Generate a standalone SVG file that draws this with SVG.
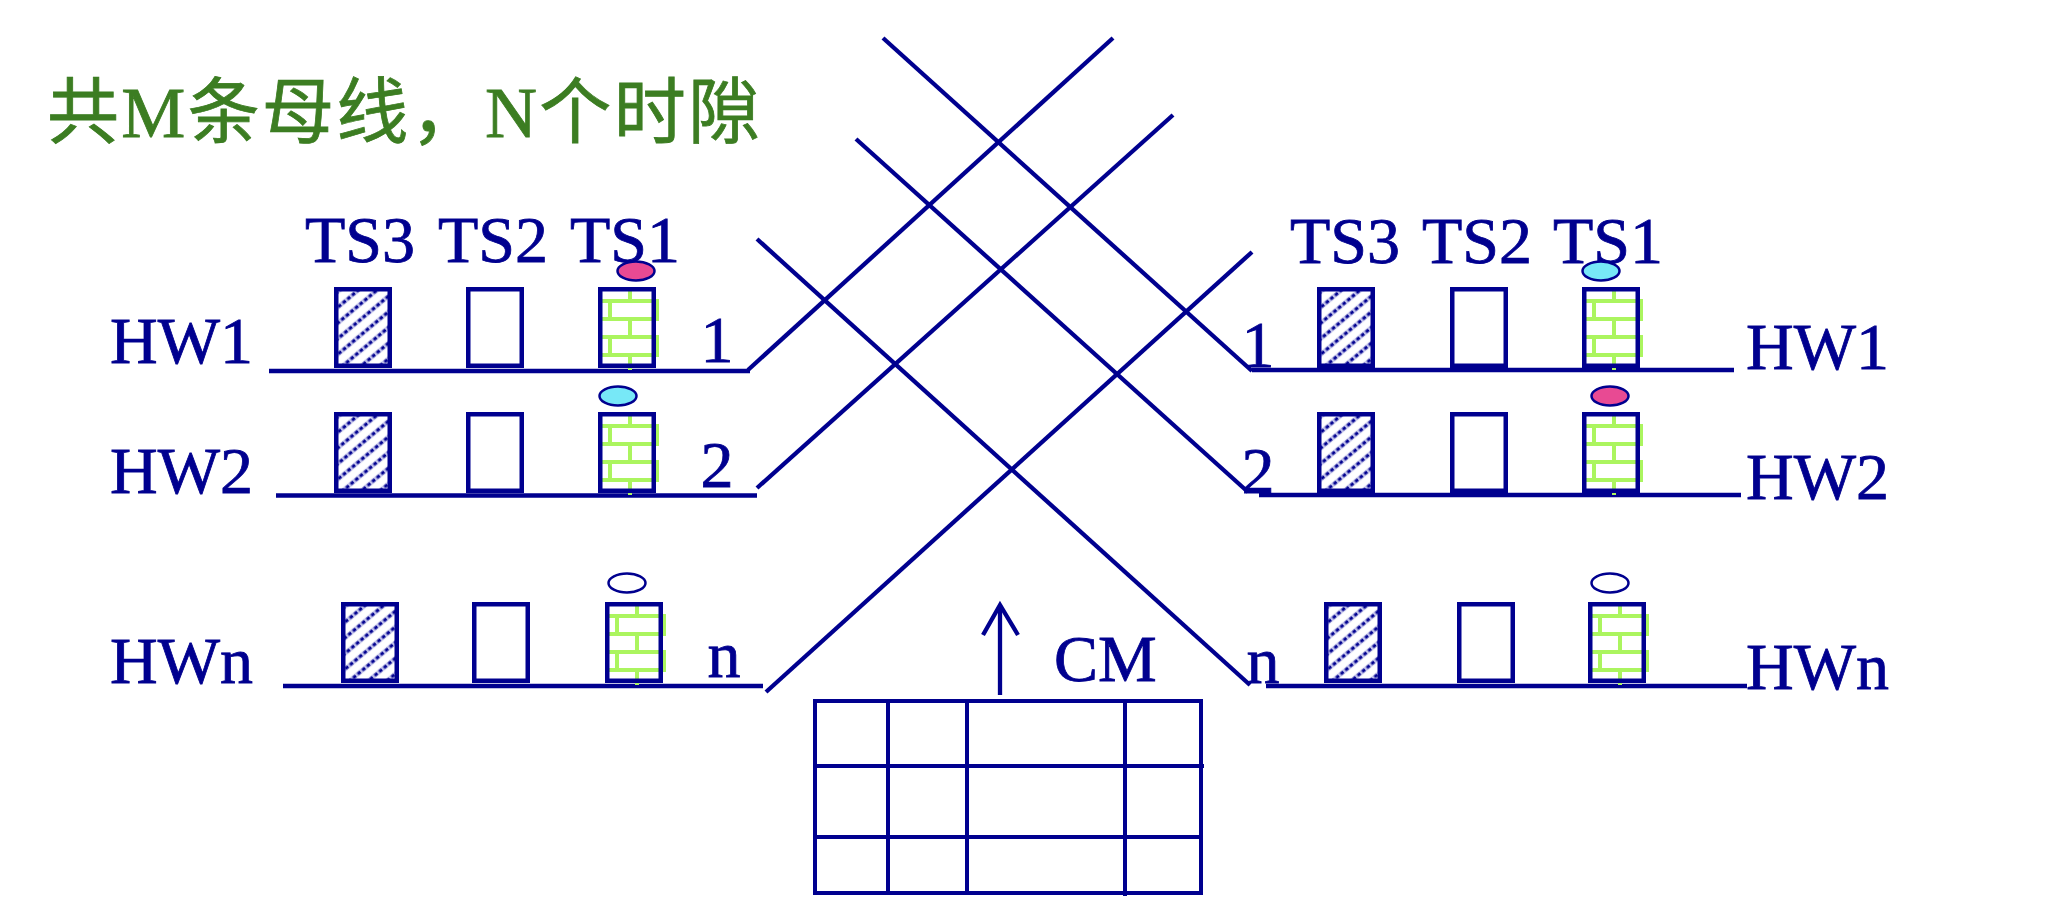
<svg xmlns="http://www.w3.org/2000/svg" xmlns:xlink="http://www.w3.org/1999/xlink" width="2050" height="916" viewBox="0 0 2050 916">
<style>
.ln{stroke:#00008f;stroke-width:4.3;fill:none;stroke-linecap:butt}
.tx{font-family:"Liberation Serif","Times New Roman",serif;font-size:66px;fill:#00008f;stroke:#00008f;stroke-width:0.8}
.num{font-family:"Liberation Serif","Times New Roman",serif;font-size:66px;fill:#00008f;stroke:#00008f;stroke-width:0.8;text-anchor:middle}
.title{font-family:"Liberation Serif","Noto Sans CJK SC",serif;font-size:72px;fill:#3c7d22;stroke:#3c7d22;stroke-width:0.8}
.box{fill:none;stroke:#00008f;stroke-width:4.5}
.ell{stroke:#00008f;stroke-width:2.5}
.tbl{stroke:#00008f;stroke-width:4;fill:none}
</style>
<defs>
<pattern id="hatch" patternUnits="userSpaceOnUse" width="12" height="12" patternTransform="rotate(50)">
<rect width="12" height="12" fill="#ffffff"/>
<line x1="6" y1="0" x2="6" y2="12" stroke="#c0c0ea" stroke-width="4.5"/>
<line x1="6" y1="0" x2="6" y2="12" stroke="#00008f" stroke-width="3" stroke-dasharray="3.5 2.5"/>
</pattern>
<g id="hatchBox">
<rect x="2.25" y="2.25" width="53.5" height="76.5" class="box" style="fill:url(#hatch)"/>
</g>
<g id="emptyBox">
<rect x="2.25" y="2.25" width="53.5" height="76.5" class="box" style="fill:#ffffff"/>
</g>
<g id="brickBox">
<rect x="2" y="2" width="54" height="77" fill="#ffffff"/>
<path d="M2 14H61M2 32H61M2 50H61M2 68H61M32 2V14M32 32V50M32 68V83M12 14V32M12 50V68M59 14V32M59 50V68" stroke="#abf55f" stroke-width="4" fill="none"/>
<rect x="2.25" y="2.25" width="53.5" height="76.5" class="box"/>
</g>
</defs>
<rect width="2050" height="916" fill="#ffffff"/>

<g id="title">
<text class="title" x="47" y="137" textLength="713" lengthAdjust="spacing">共M条母线，N个时隙</text>
</g>

<g id="connectors">
<line class="ln" x1="269" y1="371" x2="750" y2="371"/>
<line class="ln" x1="276" y1="495.5" x2="757" y2="495.5"/>
<line class="ln" x1="283" y1="686" x2="763" y2="686"/>
<line class="ln" x1="1252" y1="370" x2="1734" y2="370"/>
<line class="ln" x1="1259" y1="495" x2="1741" y2="495"/>
<line class="ln" x1="1266" y1="686" x2="1747" y2="686"/>
<line class="ln" x1="748" y1="370" x2="1113" y2="38"/>
<line class="ln" x1="757" y1="488" x2="1173" y2="115"/>
<line class="ln" x1="766" y1="692" x2="1252" y2="252"/>
<line class="ln" x1="883" y1="38" x2="1252" y2="371"/>
<line class="ln" x1="856" y1="139" x2="1248" y2="492"/>
<line class="ln" x1="757" y1="239" x2="1250" y2="685"/>
<line class="ln" x1="1000" y1="695" x2="1000" y2="606"/>
<polyline class="ln" points="983,635 1000,605 1018,635"/>
</g>

<g id="left-labels">
<text class="tx" x="305" y="262">TS3</text>
<text class="tx" x="438" y="262">TS2</text>
<text class="tx" x="570" y="262">TS1</text>
<text class="tx" x="110" y="363">HW1</text>
<text class="tx" x="110" y="493">HW2</text>
<text class="tx" x="110" y="683">HWn</text>
<text class="num" x="717" y="362">1</text>
<text class="num" x="717" y="487">2</text>
<text class="num" x="724" y="677">n</text>
</g>

<g id="right-labels">
<text class="tx" x="1290" y="263">TS3</text>
<text class="tx" x="1422" y="263">TS2</text>
<text class="tx" x="1553" y="263">TS1</text>
<text class="tx" x="1746" y="369">HW1</text>
<text class="tx" x="1746" y="499">HW2</text>
<text class="tx" x="1746" y="689">HWn</text>
<text class="num" x="1258" y="367">1</text>
<text class="num" x="1258" y="493">2</text>
<text class="num" x="1263" y="683">n</text>
</g>

<g id="L-HW1-TS3"><use xlink:href="#hatchBox" href="#hatchBox" x="334" y="287"/></g>
<g id="L-HW1-TS2"><use xlink:href="#emptyBox" href="#emptyBox" x="466" y="287"/></g>
<g id="L-HW1-TS1"><use xlink:href="#brickBox" href="#brickBox" x="598" y="287"/></g>
<g id="L-HW2-TS3"><use xlink:href="#hatchBox" href="#hatchBox" x="334" y="412"/></g>
<g id="L-HW2-TS2"><use xlink:href="#emptyBox" href="#emptyBox" x="466" y="412"/></g>
<g id="L-HW2-TS1"><use xlink:href="#brickBox" href="#brickBox" x="598" y="412"/></g>
<g id="L-HWn-TS3"><use xlink:href="#hatchBox" href="#hatchBox" x="341" y="602"/></g>
<g id="L-HWn-TS2"><use xlink:href="#emptyBox" href="#emptyBox" x="472" y="602"/></g>
<g id="L-HWn-TS1"><use xlink:href="#brickBox" href="#brickBox" x="605" y="602"/></g>

<g id="R-HW1-TS3"><use xlink:href="#hatchBox" href="#hatchBox" x="1317" y="287"/></g>
<g id="R-HW1-TS2"><use xlink:href="#emptyBox" href="#emptyBox" x="1450" y="287"/></g>
<g id="R-HW1-TS1"><use xlink:href="#brickBox" href="#brickBox" x="1582" y="287"/></g>
<g id="R-HW2-TS3"><use xlink:href="#hatchBox" href="#hatchBox" x="1317" y="412"/></g>
<g id="R-HW2-TS2"><use xlink:href="#emptyBox" href="#emptyBox" x="1450" y="412"/></g>
<g id="R-HW2-TS1"><use xlink:href="#brickBox" href="#brickBox" x="1582" y="412"/></g>
<g id="R-HWn-TS3"><use xlink:href="#hatchBox" href="#hatchBox" x="1324" y="602"/></g>
<g id="R-HWn-TS2"><use xlink:href="#emptyBox" href="#emptyBox" x="1457" y="602"/></g>
<g id="R-HWn-TS1"><use xlink:href="#brickBox" href="#brickBox" x="1588" y="602"/></g>

<g id="L-sample1"><ellipse class="ell" cx="636" cy="271" rx="18.5" ry="9.5" fill="#e84a93"/></g>
<g id="L-sample2"><ellipse class="ell" cx="618" cy="396" rx="18.5" ry="9.5" fill="#77e8f7"/></g>
<g id="L-samplen"><ellipse class="ell" cx="627" cy="583" rx="18.5" ry="9.5" fill="#ffffff"/></g>
<g id="R-sample1"><ellipse class="ell" cx="1601" cy="271" rx="18.5" ry="9.5" fill="#77e8f7"/></g>
<g id="R-sample2"><ellipse class="ell" cx="1610" cy="396" rx="18.5" ry="9.5" fill="#e84a93"/></g>
<g id="R-samplen"><ellipse class="ell" cx="1610" cy="583" rx="18.5" ry="9.5" fill="#ffffff"/></g>

<g id="CM">
<text class="tx" x="1054" y="681">CM</text>
<rect class="tbl" x="815" y="701" width="386" height="192"/>
<line class="tbl" x1="815" y1="766" x2="1204" y2="766"/>
<line class="tbl" x1="815" y1="837" x2="1201" y2="837"/>
<line class="tbl" x1="888" y1="701" x2="888" y2="893"/>
<line class="tbl" x1="967" y1="701" x2="967" y2="893"/>
<line class="tbl" x1="1125" y1="701" x2="1125" y2="896"/>
</g>
</svg>
